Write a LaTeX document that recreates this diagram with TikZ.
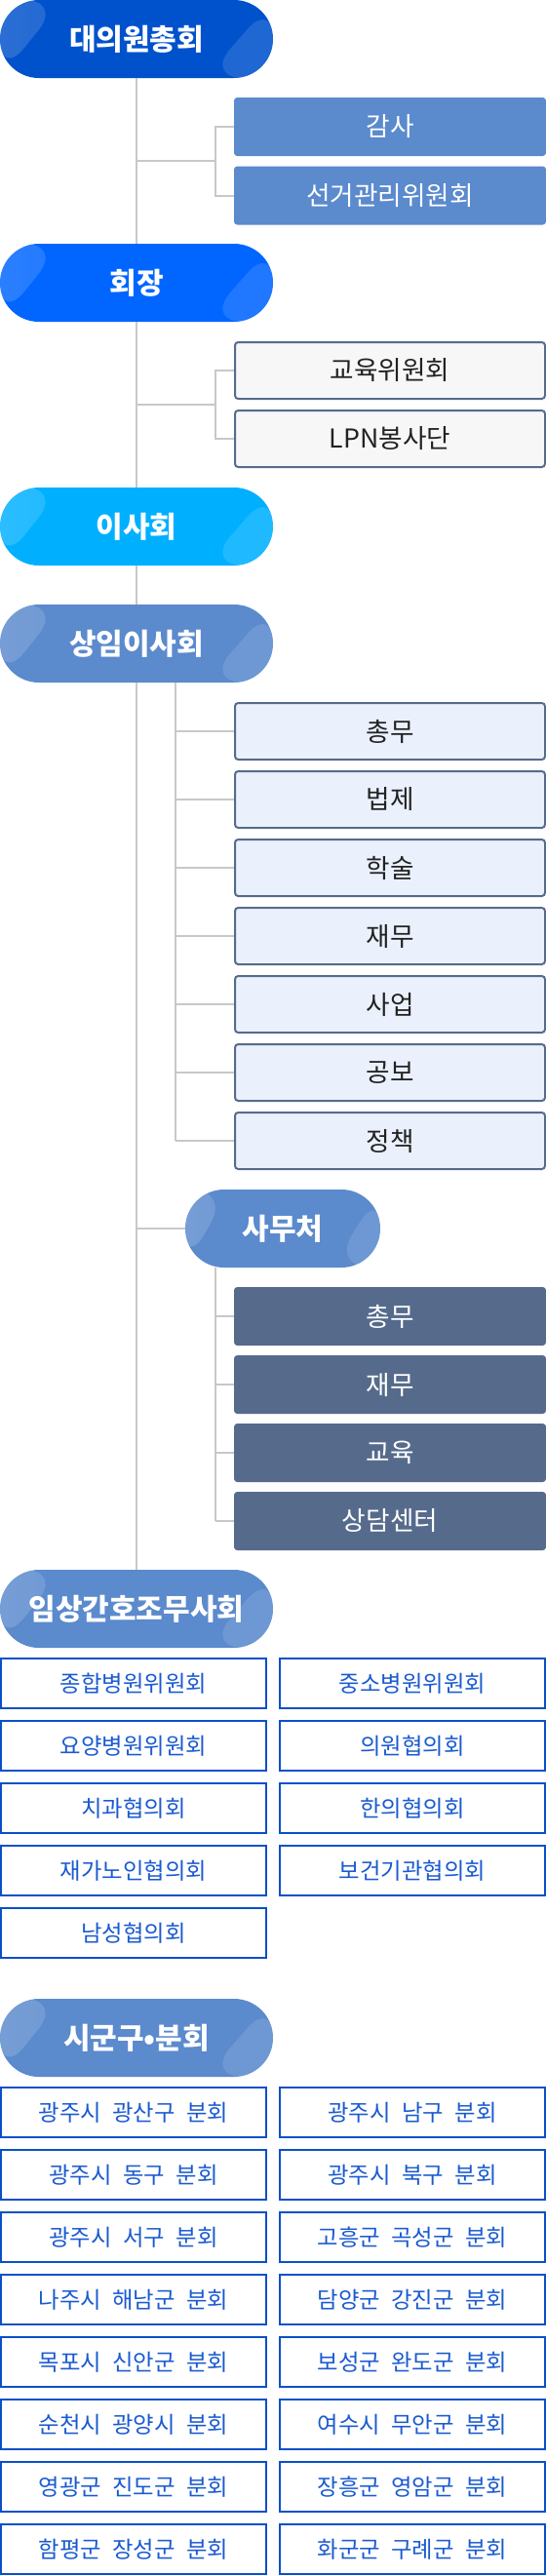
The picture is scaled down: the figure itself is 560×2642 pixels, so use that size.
\documentclass[tikz,border=0pt]{standalone}
\usepackage{fontspec}
\setmainfont[WordSpace=2.2]{Noto Sans CJK KR}
\usetikzlibrary{positioning,calc,fadings}

\definecolor{navy}{HTML}{0052CC}
\definecolor{royal}{HTML}{0066FF}
\definecolor{sky}{HTML}{00B0FF}
\definecolor{steel}{HTML}{5B8ACD}
\definecolor{slate}{HTML}{566B8C}
\definecolor{icebox}{HTML}{EAF1FD}
\definecolor{paper}{HTML}{F7F7F7}
\definecolor{linegray}{HTML}{C8C8C8}
\definecolor{frameblue}{HTML}{0A50C8}
\definecolor{gridtext}{HTML}{1A5AD0}
\definecolor{ink}{HTML}{222222}

\tikzfading[name=shineL, left color=transparent!0, right color=transparent!100]

\begin{document}
\begin{tikzpicture}[x=0.75pt, y=-0.75pt,
    wire/.style={draw=linegray, line width=1.5pt},
    pill/.style={rectangle, fill=#1, rounded corners=29.9pt, minimum width=210pt, minimum height=60pt,
        inner sep=0pt, text=white, font=\bfseries\fontsize{22.5}{26}\selectfont,
        path picture={
            \fill[white, fill opacity=.17, path fading=shineL] (path picture bounding box.north west)
                -- ($(path picture bounding box.north west)!.23!(path picture bounding box.north east)$)
                -- (path picture bounding box.south west) -- cycle;
            \fill[white, fill opacity=.12] (path picture bounding box.north east)
                -- ($(path picture bounding box.south west)!.75!(path picture bounding box.south east)$)
                -- (path picture bounding box.south east) -- cycle;
        }},
    solidbox/.style={rectangle, rounded corners=2.5pt, minimum width=240pt, minimum height=45pt,
        inner sep=0pt, text=white, font=\fontsize{20}{24}\selectfont},
    framebox/.style={rectangle, draw=slate, line width=1.5pt, rounded corners=2.5pt, minimum width=238.5pt,
        minimum height=43.5pt, inner sep=0pt, text=ink, font=\fontsize{20}{24}\selectfont},
    gridbox/.style={rectangle, draw=frameblue, line width=1.5pt, minimum width=204pt, minimum height=38.25pt,
        inner sep=0pt, text=gridtext, font=\fontsize{17.5}{21}\selectfont}
]
\useasboundingbox (0,0) rectangle (560,2642);

\node[pill=navy] (dae) at (140,40) {대의원총회};
\node[pill=royal] (hoe) at (140,290) {회장};
\node[pill=sky] (isa) at (140,540) {이사회};
\node[pill=steel] (sangim) at (140,660) {상임이사회};
\node[pill=steel] (imsang) at (140,1650) {임상간호조무사회};
\node[pill=steel] (sigun) at (140,2090) {시군구•분회};
\draw[wire] (dae) -- (hoe) -- (isa) -- (sangim) -- (imsang);

\node[solidbox, fill=steel] (gamsa) at (400,130) {감사};
\node[solidbox, fill=steel, below=7.5pt of gamsa] (seon) {선거관리위원회};
\coordinate (k1) at (221,165);
\draw[wire] (k1 -| dae) -- (k1);
\draw[wire] (gamsa.west) -| (k1) |- (seon.west);

\node[framebox, fill=paper] (edu) at (400,380) {교육위원회};
\node[framebox, fill=paper] (lpn) at (400,450) {LPN봉사단};
\coordinate (k2) at (221,415);
\draw[wire] (k2 -| hoe) -- (k2);
\draw[wire] (edu.west) -| (k2) |- (lpn.west);

% standing board
\coordinate (sk) at (180,700);
\foreach \job [count=\i from 0] in {총무,법제,학술,재무,사업,공보,정책} {
    \node[framebox, fill=icebox] (sub\i) at (400,750+70*\i) {\job};
    \draw[wire] (sub\i.west) -- (sub\i.west -| sk);
}
\draw[wire] (sk) -- (sub6.west -| sk);

% office
\node[pill=steel, minimum width=150pt] (samu) at (290,1260) {사무처};
\draw[wire] (samu.west -| sangim) -- (samu);
\coordinate (ok) at (221,1300);
\foreach \job [count=\i from 0] in {총무,재무,교육,상담센터} {
    \node[solidbox, fill=slate] (off\i) at (400,1350+70*\i) {\job};
    \draw[wire] (off\i.west) -- (off\i.west -| ok);
}
\draw[wire] (ok) -- (off3.west -| ok);

\foreach \ward [count=\i from 0] in {종합병원위원회,중소병원위원회,요양병원위원회,의원협의회,
        치과협의회,한의협의회,재가노인협의회,보건기관협의회,남성협의회} {
    \pgfmathtruncatemacro\row{div(\i,2)}
    \pgfmathtruncatemacro\col{mod(\i,2)}
    \node[gridbox] (ward\i) at (137+286*\col,1726.5+64*\row) {\ward};
}

\foreach \local [count=\i from 0] in {광주시 광산구 분회,광주시 남구 분회,광주시 동구 분회,광주시 북구 분회,
        광주시 서구 분회,고흥군 곡성군 분회,나주시 해남군 분회,담양군 강진군 분회,
        목포시 신안군 분회,보성군 완도군 분회,순천시 광양시 분회,여수시 무안군 분회,
        영광군 진도군 분회,장흥군 영암군 분회,함평군 장성군 분회,화군군 구례군 분회} {
    \pgfmathtruncatemacro\row{div(\i,2)}
    \pgfmathtruncatemacro\col{mod(\i,2)}
    \node[gridbox] (loc\i) at (137+286*\col,2166.5+64*\row) {\local};
}
\end{tikzpicture}
\end{document}
